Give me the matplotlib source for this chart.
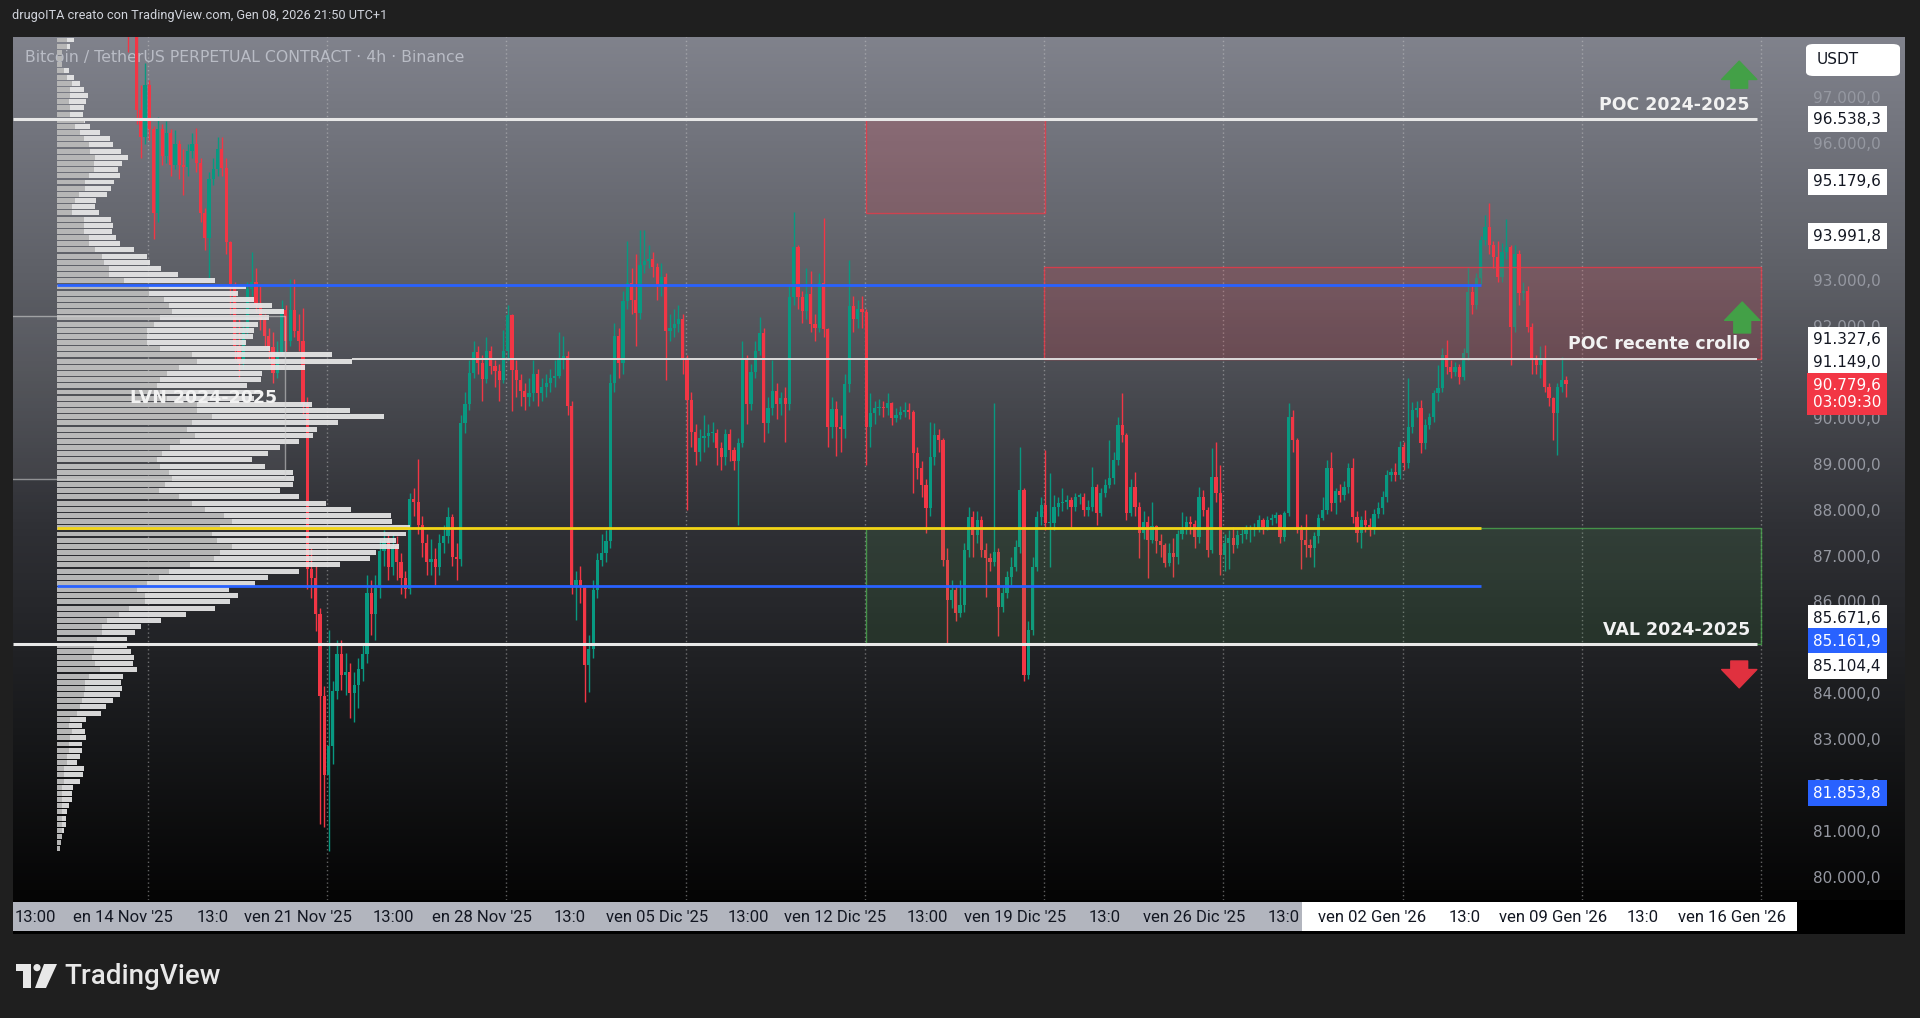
import numpy as np
import matplotlib
matplotlib.use("Agg")
from matplotlib import pyplot as plt, patches, transforms
from matplotlib.colors import LinearSegmentedColormap

# ---------------------------------------------------------------------------
# Data (BTCUSDT perpetual, Binance, 4h candles)
# bar 0 = first candle visible at the left edge
# ---------------------------------------------------------------------------
first_open = 99200
candles = [  # (close, high, low)
    (98600, 99800, 98000), (99100, 99500, 98400), (96750, 99300, 96450), (96150, 97300, 95700),
    (97300, 97760, 96000), (96330, 97400, 96100), (94500, 96400, 93930), (96330, 96600, 94300),
    (95750, 96450, 95550), (96250, 96500, 95600), (95550, 96330, 95300), (96000, 96300, 95450),
    (95550, 96100, 95250), (95500, 95900, 94900), (95850, 96000, 95300), (96000, 96250, 95700),
    (95600, 96350, 95400), (94500, 95700, 94300), (93950, 94600, 93700), (95250, 95400, 93070),
    (95450, 95700, 95100), (95900, 96150, 95300), (95480, 96150, 95300), (93870, 95700, 93600),
    (92960, 93900, 92300), (91600, 93000, 91300), (91250, 92200, 90900), (91930, 92100, 91100),
    (92850, 93000, 91800), (93000, 93650, 92700), (92500, 93300, 92350), (92160, 92900, 91950),
    (91820, 92300, 91600), (91590, 92000, 91300), (91010, 91900, 90800), (91470, 91700, 90900),
    (92390, 92600, 91400), (91700, 92500, 91500), (92390, 93070, 91600), (91930, 93070, 91800),
    (91700, 92300, 91500), (90330, 92440, 90100), (86730, 90500, 86300), (86550, 87200, 86100),
    (85750, 86800, 85400), (83980, 85900, 81180), (82260, 84200, 81120), (82890, 85410, 80600),
    (84090, 84300, 82500), (84890, 85200, 83900), (84440, 85200, 84100), (84490, 84900, 84000),
    (84040, 84700, 83500), (84210, 84500, 83400), (84550, 84800, 83700), (84890, 85100, 84300),
    (86210, 86600, 84700), (85750, 86500, 85300), (86320, 86600, 85200), (87130, 87400, 86100),
    (87350, 87600, 86800), (86780, 87500, 86500), (87240, 87500, 86600), (86900, 87450, 86500),
    (86550, 87100, 86200), (86300, 86700, 86100), (88270, 88400, 86200), (88210, 88500, 87900),
    (87700, 89130, 87500), (87300, 87900, 87000), (86900, 87500, 86600), (86950, 87400, 86600),
    (86780, 87200, 86400), (87300, 87500, 86600), (87470, 87700, 87100), (87870, 88100, 87300),
    (87010, 87950, 86800), (86950, 87300, 86500), (89930, 90100, 86800), (90330, 90600, 89700),
    (91010, 91300, 90200), (91470, 91700, 90900), (91240, 91600, 91000), (90885, 91400, 90400),
    (91500, 91790, 90800), (91155, 91600, 91000), (91050, 91300, 90700), (90850, 91200, 90400),
    (91500, 91960, 90800), (92280, 92500, 91300), (91080, 92300, 90190), (90850, 91300, 90500),
    (90610, 91000, 90300), (90500, 90800, 90200), (90580, 90900, 90300), (91000, 91300, 90400),
    (90570, 91100, 90300), (90700, 90900, 90400), (90800, 91000, 90500), (90900, 91100, 90600),
    (90950, 91300, 90700), (91350, 91900, 90900), (91390, 91810, 91100), (90300, 91500, 90100),
    (86395, 90400, 86200), (86510, 86700, 85620), (86350, 86800, 86000), (84650, 86400, 83840),
    (85000, 85300, 84070), (86280, 86500, 84800), (86940, 87100, 86100), (87100, 87500, 86800),
    (87360, 87600, 86900), (90800, 91000, 87200), (91810, 92100, 90600), (91230, 92000, 90900),
    (92580, 92800, 91000), (92975, 93900, 92400), (92600, 93300, 92300), (92320, 93600, 91600),
    (93360, 94135, 92200), (93450, 94135, 93200), (93500, 93800, 93300), (93320, 93650, 93100),
    (92900, 93400, 92600), (93100, 93400, 92700), (91930, 93200, 90850), (92000, 92300, 91700),
    (92080, 92400, 91800), (92200, 92500, 91900), (91310, 92300, 91000), (90420, 91400, 88020),
    (89720, 90600, 89400), (89300, 89900, 89000), (89600, 89800, 89100), (89650, 90100, 89300),
    (89700, 89900, 89400), (89700, 89950, 89500), (89380, 89800, 89000), (89180, 89500, 88900),
    (89680, 89800, 89000), (89330, 89800, 89100), (89100, 89400, 88900), (89490, 89600, 87700),
    (91350, 91700, 89400), (90340, 91400, 89900), (91040, 91200, 90200), (91500, 91700, 90900),
    (91890, 92240, 91400), (89920, 92000, 89500), (90260, 90500, 89700), (90610, 91300, 90100),
    (90340, 90800, 90000), (90460, 90600, 90100), (90340, 90700, 89500), (92660, 92900, 90200),
    (93750, 94520, 92500), (92660, 93800, 92400), (92355, 92800, 92100), (92740, 93300, 92200),
    (92080, 93240, 91900), (92000, 92300, 91700), (92980, 93200, 91900), (91970, 94400, 91800),
    (89840, 92000, 89400), (90220, 90500, 89600), (89840, 90400, 89200), (89800, 90100, 89300),
    (90770, 91000, 89600), (92470, 93480, 90600), (92200, 92700, 91900), (92400, 92600, 92000),
    (92350, 92700, 92000), (89840, 92400, 89000), (90130, 90570, 89410), (90240, 90400, 89900),
    (90280, 90450, 90100), (90240, 90400, 90050), (90350, 90570, 90100), (90025, 90390, 89880),
    (90100, 90250, 89950), (90170, 90300, 90000), (90210, 90390, 90050), (90170, 90350, 90000),
    (89260, 90200, 88390), (88935, 89400, 88700), (88570, 89100, 88300), (88060, 88700, 87520),
    (89190, 89950, 87900), (89660, 89920, 89000), (89550, 89800, 89300), (86940, 89600, 86800),
    (86065, 87200, 85085), (86280, 86500, 85900), (85775, 86400, 85600), (85960, 86500, 85700),
    (87155, 87300, 85800), (87880, 88100, 87000), (87480, 88000, 87010), (87800, 88000, 87300),
    (87155, 87900, 87000), (86970, 87300, 86140), (86900, 87100, 86700), (87120, 90350, 86800),
    (85920, 87200, 85270), (86210, 86400, 85800), (86570, 86700, 86100), (86790, 87000, 86400),
    (87230, 87370, 86700), (88460, 89410, 87100), (84430, 88500, 84300), (85410, 85600, 84350),
    (86790, 87000, 85300), (87880, 88000, 86700), (88130, 88320, 87700), (87740, 89335, 87600),
    (87740, 88830, 86790), (88100, 88350, 87600), (88170, 88300, 87900), (88210, 88500, 88000),
    (88240, 88350, 88050), (88100, 88300, 87660), (88320, 88400, 88000), (88320, 88390, 88150),
    (88030, 88400, 87900), (88100, 88250, 87900), (88535, 88970, 88000), (87955, 88600, 87700),
    (88390, 88500, 87900), (88570, 88700, 88300), (88720, 89550, 88500), (89120, 89300, 88600),
    (89880, 90060, 89000), (89660, 90570, 89500), (87955, 89700, 87800), (88535, 88700, 87900),
    (88100, 88860, 87900), (87520, 88200, 86970), (87770, 88000, 87400), (87370, 87900, 86540),
    (87670, 88210, 87300), (87340, 87700, 87100), (87260, 87500, 87000), (86865, 87300, 86790),
    (87080, 87300, 86800), (87010, 87410, 86570), (87510, 87600, 86860), (87590, 87990, 87400),
    (87770, 87900, 87500), (87730, 87900, 87500), (87440, 87800, 87200), (88320, 88535, 87300),
    (88030, 88460, 87900), (87155, 88100, 87000), (88750, 89380, 87100), (88390, 89500, 88200),
    (87045, 89000, 86600), (87300, 87500, 86700), (87410, 87600, 86750), (87260, 87660, 87100),
    (87480, 87600, 87200), (87500, 87650, 87300), (87580, 87700, 87400), (87600, 87700, 87330),
    (87630, 87750, 87450), (87810, 87920, 87550), (87660, 87850, 87500), (87810, 87900, 87600),
    (87850, 87950, 87700), (87920, 87990, 87750), (87445, 87950, 87300), (87955, 88000, 87350),
    (90060, 90350, 87900), (89550, 90200, 89300), (87590, 89600, 87520), (87370, 87700, 86750),
    (87260, 87950, 87010), (87190, 87400, 87000), (87450, 87550, 86790), (87860, 87950, 87300),
    (88030, 88320, 87800), (88935, 89120, 87950), (88170, 89300, 88000), (88430, 88500, 87950),
    (88350, 88600, 88200), (88535, 88650, 88250), (88935, 89050, 88400), (87880, 89150, 87750),
    (87520, 88000, 87330), (87810, 87900, 87190), (87700, 88030, 87550), (87630, 87850, 87450),
    (87950, 88050, 87500), (88060, 88200, 87850), (88320, 88450, 87950), (88790, 88900, 88200),
    (88860, 88950, 88650), (88790, 89040, 88650), (89400, 89540, 88700), (89040, 89500, 88900),
    (89840, 90896, 88950), (90200, 90390, 89700), (90240, 90400, 90050), (89480, 90420, 89260),
    (89880, 90000, 89350), (90060, 90130, 89800), (90570, 90650, 89950), (90680, 91180, 90400),
    (91400, 91550, 90600), (91150, 91730, 91000), (91040, 91300, 90900), (91150, 91250, 90950),
    (90930, 91200, 90780), (91440, 91550, 90850), (92785, 93330, 91300), (92500, 92900, 92300),
    (93075, 93200, 92400), (93910, 94000, 92950), (94200, 94450, 93800), (93800, 94710, 93600),
    (93550, 93900, 93300), (93110, 93900, 93000), (93650, 93840, 93000), (93760, 94380, 93500),
    (92020, 93800, 91180), (93600, 93800, 91900), (92750, 93700, 92500), (92790, 93000, 92600),
    (92020, 92900, 91900), (91300, 92100, 91000), (91180, 91400, 91000), (91300, 91600, 90900),
    (90710, 91620, 90600), (90460, 90800, 90300), (90130, 90500, 89550), (90710, 90800, 89225),
    (90860, 91370, 90600), (90780, 90940, 90500),
]

# Volume profile (arbitrary volume units), rows from the top of the pane down
profile_top = 98271
profile_step = 134.6
profile_total = [
    50, 40, 15, 15, 15, 37, 50, 68, 80, 93, 88, 80, 78, 83, 100, 130, 158, 168, 192, 212,
    196, 182, 190, 172, 162, 150, 118, 113, 125, 162, 167, 166, 178, 190, 230, 270, 280, 311, 363, 473,
    566, 542, 590, 645, 682, 636, 602, 590, 588, 567, 640, 826, 884, 745, 616, 612, 570, 610, 590, 765,
    878, 980, 844, 780, 768, 725, 670, 633, 586, 625, 707, 710,
    707, 668, 727, 808, 883, 1003, 1005, 1060, 1047, 1018, 1026, 957, 940, 848, 727, 632, 595, 516, 542, 520,
    473, 388, 311, 251, 235, 211, 210, 223, 232, 228, 240, 197, 193, 195, 188, 168, 148, 133, 88, 76,
    84, 86, 74, 76, 70, 60, 80, 78, 70, 48, 46, 45, 37, 30, 28, 28, 20, 16, 12, 10,
]
profile_dark = [
    30, 30, 15, 15, 15, 20, 30, 45, 40, 40, 35, 40, 40, 80, 55, 70, 80, 95, 100, 115,
    110, 110, 95, 85, 85, 65, 55, 45, 45, 80, 80, 80, 95, 95, 115, 135, 140, 155, 155, 200,
    275, 275, 320, 335, 345, 310, 290, 270, 270, 270, 310, 405, 420, 365, 330, 310, 300, 310, 330, 420,
    420, 465, 405, 390, 415, 370, 340, 315, 300, 310, 335, 345,
    325, 305, 365, 405, 445, 500, 525, 490, 465, 480, 525, 490, 470, 400, 335, 305, 270, 240, 265, 265,
    215, 185, 150, 135, 135, 120, 110, 110, 105, 115, 130, 95, 85, 85, 80, 75, 70, 60, 40, 35,
    45, 40, 35, 35, 30, 30, 20, 20, 20, 15, 15, 15, 15, 15, 15, 15, 15, 15, 12, 10,
]

# drawn levels
poc_2425 = 96538.3
val_2425 = 85104.4
poc_crollo = 91327.6
blue_levels = [92931, 86373]
yellow_level = 87637
lvn_zone = (88696, 92258)
red_zone_top = (94500, 96538.3)
red_zone_mid = (91327.6, 93323)
green_zone = (85104.4, 87637)

# price scale ticks still readable in the screenshot (the rest sit under tags)
price_ticks = [80000, 81000, 82000, 83000, 84000, 86000, 87000, 88000, 89000, 90000,
               92000, 93000, 96000, 97000]
# value, box colour, text colour, stacking shift in px (TradingView pushes overlapping tags)
axis_tags = [
    (96538.3, "white", "#131722", 0),
    (95179.6, "white", "#131722", 0),
    (93991.8, "white", "#131722", 0),
    (91327.6, "white", "#131722", -19),
    (91149.0, "white", "#131722", -4),
    (85671.6, "white", "#131722", 0),
    (85161.9, "#2962ff", "white", 0),
    (85104.4, "white", "#131722", 22),
    (81853.8, "#2962ff", "white", 0),
]
last_price = 90779.6
countdown = "03:09:30"

# time axis (positions in bar units)
time_labels = ["13:00", "en 14 Nov '25", "13:0", "ven 21 Nov '25", "13:00", "en 28 Nov '25", "13:0",
               "ven 05 Dic '25", "13:00", "ven 12 Dic '25", "13:00", "ven 19 Dic '25", "13:0",
               "ven 26 Dic '25", "13:0", "ven 02 Gen '26", "13:0", "ven 09 Gen '26", "13:0", "ven 16 Gen '26"]
time_pos = [-21.8, -1.2, 19.9, 39.8, 62.1, 83.0, 103.4, 124.0, 145.3, 165.7, 187.3, 207.9, 229.0,
            249.8, 270.9, 291.6, 313.3, 334.0, 354.9, 375.9]
week_lines = [4.7, 46.7, 88.7, 130.7, 172.7, 214.7, 256.7, 298.7, 340.7, 382.7]


def it_price(v):
    s = f"{v:,.1f}"
    return s.replace(",", " ").replace(".", ",").replace(" ", ".")


# ---------------------------------------------------------------------------
W, H = 1920, 1018
fig = plt.figure(figsize=(W / 100, H / 100), dpi=100, facecolor="#1f1f1f")


def frect(x0, y0, x1, y1):
    # pixel box (top-left origin) -> figure fraction rect
    return [x0 / W, 1 - y1 / H, (x1 - x0) / W, (y1 - y0) / H]


pane = frect(13, 37, 1905, 900)
XLIM = (-26.95, 416.45)
YLIM = (79526, 98336)

ax = fig.add_axes(pane)
ax.set_xlim(*XLIM)
ax.set_ylim(*YLIM)
ax.axis("off")

# background gradient
bg = LinearSegmentedColormap.from_list(
    "tvbg", [(0, "#80828c"), (0.28, "#5d5f66"), (0.57, "#2f3035"), (0.81, "#17181a"), (1, "#050505")])
ax.imshow(np.linspace(0, 1, 256).reshape(-1, 1), cmap=bg, aspect="auto",
          extent=[XLIM[0], XLIM[1], YLIM[0], YLIM[1]], origin="upper", zorder=0)

for g in week_lines:
    ax.axvline(g, color="#d0d0d0", lw=1, ls=(0, (1, 2)), alpha=0.45, zorder=1)

ax.text(12 / 1892, 1 - 20.5 / 863, "Bitcoin / TetherUS PERPETUAL CONTRACT · 4h · Binance",
        transform=ax.transAxes, color="#b9bcc5", fontsize=11.3, va="center", ha="left", zorder=2)

# candles
c = np.array([k[0] for k in candles], float)
hi = np.array([k[1] for k in candles], float)
lo = np.array([k[2] for k in candles], float)
o = np.concatenate([[first_open], c[:-1]])
hi = np.maximum(hi, np.maximum(o, c))
lo = np.minimum(lo, np.minimum(o, c))
idx = np.arange(len(c))
cols = np.where(c >= o, "#089981", "#f23645")
ax.vlines(idx, lo, hi, colors=cols, lw=1, zorder=3)
ax.bar(idx, np.maximum(np.abs(c - o), 30), bottom=np.minimum(o, c), width=0.75,
       color=cols, linewidth=0, zorder=3)

# volume profile on its own x scale
axp = fig.add_axes(pane)
axp.set_xlim(-132, 5544)
axp.set_ylim(*YLIM)
axp.axis("off")
rows = profile_top - profile_step * np.arange(len(profile_total))
axp.barh(rows, profile_total, height=profile_step * 0.8, left=0, color="#ececec", alpha=0.9, lw=0)
axp.barh(rows, np.minimum(profile_dark, profile_total), height=profile_step * 0.8, left=0,
         color="#b3b3b3", alpha=0.92, lw=0)

# overlay: drawings
axo = fig.add_axes(pane)
axo.set_xlim(*XLIM)
axo.set_ylim(*YLIM)
axo.axis("off")

x_left, x_prof, x_end, x_box = XLIM[0], -16.6, 381.8, 382.7

for (y0, y1), x0, x1, fc, ec, a in [
        (red_zone_top, 173.0, 214.9, "#f23645", "#f23645", 0.17),
        (red_zone_mid, 214.7, x_box, "#f23645", "#f23645", 0.17),
        (green_zone, 173.0, x_box, "#4caf50", "#4caf50", 0.12)]:
    axo.add_patch(patches.Rectangle((x0, y0), x1 - x0, y1 - y0, facecolor=fc, alpha=a, lw=0, zorder=2))
    axo.add_patch(patches.Rectangle((x0, y0), x1 - x0, y1 - y0, facecolor="none", edgecolor=ec,
                                    alpha=0.75, lw=1, zorder=2))

# LVN zone: faint fill, top/bottom/right edges (left edge sits on the pane border)
axo.add_patch(patches.Rectangle((x_left, lvn_zone[0]), 36.8 - x_left, lvn_zone[1] - lvn_zone[0],
                                facecolor="white", alpha=0.05, lw=0, zorder=2))
axo.plot([x_left, 36.8, 36.8, x_left], [lvn_zone[1], lvn_zone[1], lvn_zone[0], lvn_zone[0]],
         color="#cfcfcf", alpha=0.6, lw=1, zorder=2)

axo.hlines(poc_2425, x_left, x_end, color="#e8e8e8", lw=2.2, zorder=3)
axo.hlines(val_2425, x_left, x_end, color="#e8e8e8", lw=2.2, zorder=3)
axo.hlines(poc_crollo, 52.5, x_end, color="#dcdcdc", lw=1.4, zorder=3)
for b in blue_levels:
    axo.hlines(b, x_prof, 317.1, color="#2962ff", lw=2, zorder=3)
axo.hlines(yellow_level, x_prof, 317.1, color="#f2d516", lw=2, zorder=3)

for txt, y in [("POC 2024-2025", poc_2425), ("POC recente crollo", poc_crollo), ("VAL 2024-2025", val_2425)]:
    axo.annotate(txt, (380.1, y), xytext=(0, 4), textcoords="offset points", ha="right", va="bottom",
                 color="#f2f2f2", fontsize=12.5, fontweight="bold", zorder=5)
axo.text(17.8, 90466, "LVN 2024-2025", ha="center", va="center", color="#f2f2f2",
         fontsize=12.5, fontweight="bold", zorder=5)

# arrows on the right
for x, tail, tip, col in [(377.6, 97220, 97810, "#43a047"), (378.3, 91885, 92560, "#43a047"),
                          (377.6, 84735, 84150, "#e0313f")]:
    axo.annotate("", xy=(x, tip), xytext=(x, tail),
                 arrowprops=dict(arrowstyle="simple,head_length=0.6,head_width=1.15,tail_width=0.55",
                                 color=col, mutation_scale=22, shrinkA=0, shrinkB=0), zorder=5)

# price scale
tr = transforms.blended_transform_factory(axo.transAxes, axo.transData)
xr = (1881 - 13) / 1892
for p in price_ticks:
    axo.text(xr, p, it_price(p), transform=tr, ha="right", va="center", color="#9598a1",
             fontsize=11, zorder=4)
for v, fc, tc, shift in axis_tags:
    axo.annotate(it_price(v), (xr, v), xycoords=tr, xytext=(0, -shift * 0.72), textcoords="offset points",
                 ha="right", va="center", color=tc, fontsize=11, zorder=6,
                 bbox=dict(boxstyle="square,pad=0.36", fc=fc, ec="none"))
axo.annotate(f"{it_price(last_price)}\n{countdown}", (xr, last_price), xycoords=tr, xytext=(0, 4),
             textcoords="offset points", ha="right", va="top", color="white", fontsize=11,
             linespacing=1.15, zorder=6, bbox=dict(boxstyle="square,pad=0.36", fc="#f23645", ec="none"))

# currency button
fig.patches.append(patches.FancyBboxPatch((1806 / W, 1 - 76 / H), 94 / W, 32 / H,
                                          boxstyle="round,pad=0,rounding_size=0.004",
                                          transform=fig.transFigure, fc="white", ec="none"))
fig.text(1817 / W, 1 - 60 / H, "USDT", color="#131722", fontsize=11, va="center", ha="left")

# time axis strip
axt = fig.add_axes(frect(13, 900, 1905, 934))
axt.set_xlim(*XLIM)
axt.set_ylim(934, 900)
axt.set_facecolor("black")
axt.set_xticks([])
axt.set_yticks([])
for s in axt.spines.values():
    s.set_visible(False)
axt.add_patch(patches.Rectangle((XLIM[0], 902), 275.1 - XLIM[0], 29, fc="#b2b5be", ec="none"))
axt.add_patch(patches.Rectangle((275.1, 902), 391.1 - 275.1, 29, fc="white", ec="none"))
for lab, x in zip(time_labels, time_pos):
    axt.text(x, 917, lab, ha="center", va="center", color="#131722", fontsize=12,
             family="Roboto", clip_on=True)

# header and footer
fig.text(12 / W, 1 - 16 / H, "drugoITA creato con TradingView.com, Gen 08, 2026 21:50 UTC+1",
         color="#d1d4dc", fontsize=9.2, family="Roboto", va="center", ha="left")

axl = fig.add_axes(frect(16, 964, 58, 988))
axl.set_xlim(0, 42)
axl.set_ylim(24, 0)
axl.axis("off")
axl.add_patch(patches.Rectangle((0, 0), 15, 7, fc="#e8e8e8", ec="none"))
axl.add_patch(patches.Rectangle((7, 0), 8, 24, fc="#e8e8e8", ec="none"))
axl.add_patch(patches.Circle((21, 3.6), 3.6, fc="#e8e8e8", ec="none"))
axl.add_patch(patches.Polygon([(28, 0), (41, 0), (30, 24), (19, 24)], fc="#e8e8e8", ec="none"))

fig.text(64 / W, 1 - 976 / H, "TradingView", color="#e8e8e8", fontsize=20, family="Roboto",
         fontweight="medium", va="center", ha="left")

fig.savefig("out.png", dpi=100, facecolor=fig.get_facecolor())
